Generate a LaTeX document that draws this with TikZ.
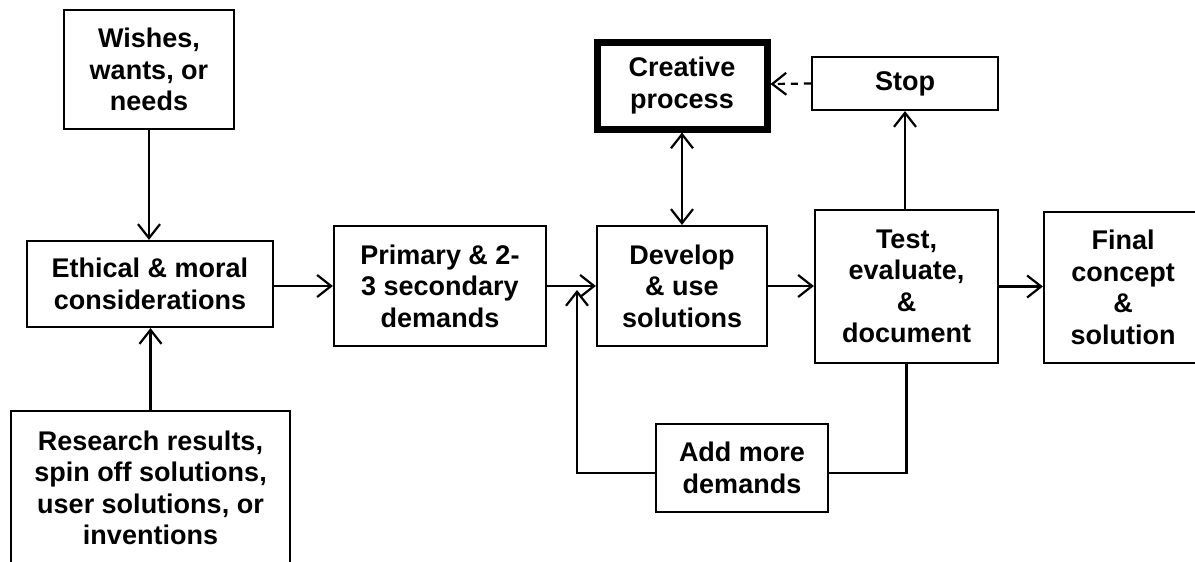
\documentclass[tikz,border=0pt]{standalone}
\usepackage{fontspec}
\setmainfont{Liberation Sans}
\usetikzlibrary{arrows.meta}
\tikzset{
  box/.style={draw, line width=2.2pt, align=center, inner sep=0pt,
    font=\fontsize{27}{31.5}\selectfont\bfseries},
  line/.style={line width=2.2pt},
  arr/.style={line width=2.2pt, -{Straight Barb[length=14pt,width=22pt]}},
  dbl/.style={line width=2.2pt, {Straight Barb[length=14pt,width=22pt]}-{Straight Barb[length=14pt,width=22pt]}},
  dsh/.style={arr, dash pattern=on 7pt off 6pt},
}
\begin{document}
\begin{tikzpicture}[x=1pt,y=-1pt]
\useasboundingbox (0,0) rectangle (1195,562);
\clip (0,0) rectangle (1195,562);
\node[box, minimum width=170, minimum height=119] (wish) at (149,69.5) {Wishes,\\wants, or\\needs};
\node[box, minimum width=246, minimum height=86] (ethical) at (150,284) {Ethical \& moral\\considerations};
\node[box, minimum width=279, minimum height=154] (research) at (150.5,488) {Research results,\\spin off solutions,\\user solutions, or\\inventions};
\node[box, minimum width=212, minimum height=120] (primary) at (440,286) {Primary \& 2-\\3 secondary\\demands};
\node[box, minimum width=170, minimum height=120] (develop) at (682,286) {Develop\\\& use\\solutions};
\node[box, line width=7pt, minimum width=170, minimum height=87] (creative) at (682,85.5) {Creative\\process};
\node[box, minimum width=186, minimum height=53] (stop) at (905,83.5) {Stop};
\node[box, minimum width=183, minimum height=153] (test) at (906.5,286.5) {Test,\\evaluate,\\\&\\document};
\node[box, minimum width=158, minimum height=151] (final) at (1123,287.5) {Final\\concept\\\&\\solution};
\node[box, minimum width=172, minimum height=88] (add) at (742,468) {Add more\\demands};
\coordinate (fbR) at (906.5,473);
\coordinate (fbL) at (577,473);
\coordinate (fbT) at (577,290);
\coordinate (crE) at (770.5,84);
% connectors
\draw[arr] (wish.south) -- (wish.south |- ethical.north);
\draw[arr] (research.north) -- (research.north |- ethical.south);
\draw[arr] (primary.west -| ethical.east) -- (primary.west);
\draw[arr] (primary.east) -- (develop.west);
\draw[arr] (develop.east) -- (develop.east -| test.west);
\draw[arr] (test.east) -- (test.east -| final.west);
\draw[dbl] (creative.south) -- (develop.north);
\draw[arr] (stop.south |- test.north) -- (stop.south);
\draw[dsh] (stop.west) -- (crE);
\draw[line] (test.south) -- (fbR) -- (fbR -| add.east);
\draw[arr] (fbL -| add.west) -- (fbL) -- (fbT);
\end{tikzpicture}
\end{document}
